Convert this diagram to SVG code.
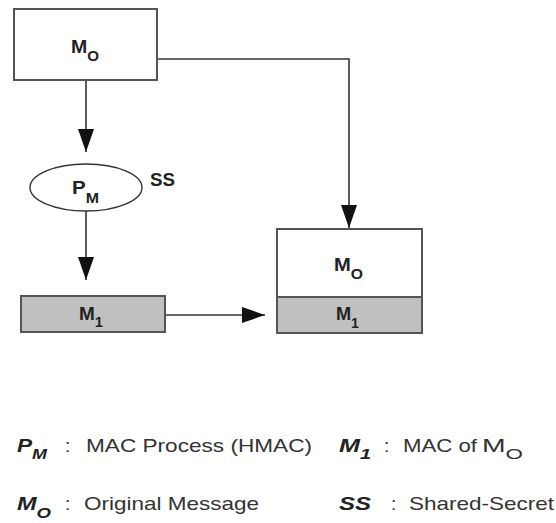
<svg xmlns="http://www.w3.org/2000/svg" width="556" height="523" viewBox="0 0 556 523">
<style>
.box{fill:#ffffff;stroke:#555555;stroke-width:2}
.gray{fill:#c0c0c0;stroke:#555555;stroke-width:2}
.conn{fill:none;stroke:#333333;stroke-width:1.6}
.lbl{font-family:"Liberation Sans",Arial,sans-serif;font-weight:bold;font-size:18px;fill:#222222}
.sub{font-size:14px}
.leg{font-family:"Liberation Sans",Arial,sans-serif;font-size:19px;fill:#333333}
.legb{font-family:"Liberation Sans",Arial,sans-serif;font-size:19px;font-weight:bold;font-style:italic;fill:#222222}
.lsub{font-size:15px}
</style>
<defs>
<marker id="arr" markerUnits="userSpaceOnUse" markerWidth="24" markerHeight="17" refX="23" refY="8" orient="auto">
<path d="M0,0 L23,8 L0,16 z" fill="#111111"/>
</marker>
</defs>
<g id="connectors">
<path class="conn" d="M86,80 L86,152" marker-end="url(#arr)"/>
<path class="conn" d="M86,211 L86,280" marker-end="url(#arr)"/>
<path class="conn" d="M165,315 L265,315" marker-end="url(#arr)"/>
<path class="conn" d="M157,59 L349,59 L349,228" marker-end="url(#arr)"/>
</g>
<g id="mo-source">
<rect class="box" x="14" y="9" width="143" height="71"/>
<text class="lbl" x="71" y="53" textLength="28" lengthAdjust="spacingAndGlyphs">M<tspan class="sub" dy="8">O</tspan></text>
</g>
<g id="pm-process">
<ellipse cx="86" cy="187.5" rx="56" ry="23.5" fill="#ffffff" stroke="#333333" stroke-width="1.4"/>
<text class="lbl" x="72" y="194" textLength="27" lengthAdjust="spacingAndGlyphs">P<tspan class="sub" dy="9">M</tspan></text>
<text class="lbl" x="150" y="186" textLength="25" lengthAdjust="spacingAndGlyphs">SS</text>
</g>
<g id="m1-mac">
<rect class="gray" x="21" y="296" width="144" height="36"/>
<text class="lbl" x="79" y="320" textLength="24" lengthAdjust="spacingAndGlyphs">M<tspan class="sub" dy="7">1</tspan></text>
</g>
<g id="result">
<rect class="box" x="277" y="229" width="145" height="68"/>
<rect class="gray" x="277" y="297" width="145" height="36"/>
<text class="lbl" x="334" y="271" textLength="29" lengthAdjust="spacingAndGlyphs">M<tspan class="sub" dy="8">O</tspan></text>
<text class="lbl" x="336" y="320" textLength="23" lengthAdjust="spacingAndGlyphs">M<tspan class="sub" dy="8">1</tspan></text>
</g>
<g id="legend">
<text class="legb" x="17" y="452" textLength="30" lengthAdjust="spacingAndGlyphs">P<tspan class="lsub" dy="7">M</tspan></text>
<text class="leg" x="65" y="452">:</text>
<text class="leg" x="86" y="452" textLength="226" lengthAdjust="spacingAndGlyphs">MAC Process (HMAC)</text>
<text class="legb" x="339" y="452" textLength="32" lengthAdjust="spacingAndGlyphs">M<tspan class="lsub" dy="7">1</tspan></text>
<text class="leg" x="384" y="452">:</text>
<text class="leg" x="403" y="452" textLength="74" lengthAdjust="spacingAndGlyphs">MAC of</text>
<text class="leg" x="482" y="452" textLength="41" lengthAdjust="spacingAndGlyphs">M<tspan class="lsub" dy="7">O</tspan></text>
<text class="legb" x="17" y="510" textLength="34" lengthAdjust="spacingAndGlyphs">M<tspan class="lsub" dy="8">O</tspan></text>
<text class="leg" x="65" y="510">:</text>
<text class="leg" x="84" y="510" textLength="175" lengthAdjust="spacingAndGlyphs">Original Message</text>
<text class="legb" x="339" y="510" textLength="32" lengthAdjust="spacingAndGlyphs">SS</text>
<text class="leg" x="391" y="510">:</text>
<text class="leg" x="409" y="510" textLength="145" lengthAdjust="spacingAndGlyphs">Shared-Secret</text>
</g>
</svg>
